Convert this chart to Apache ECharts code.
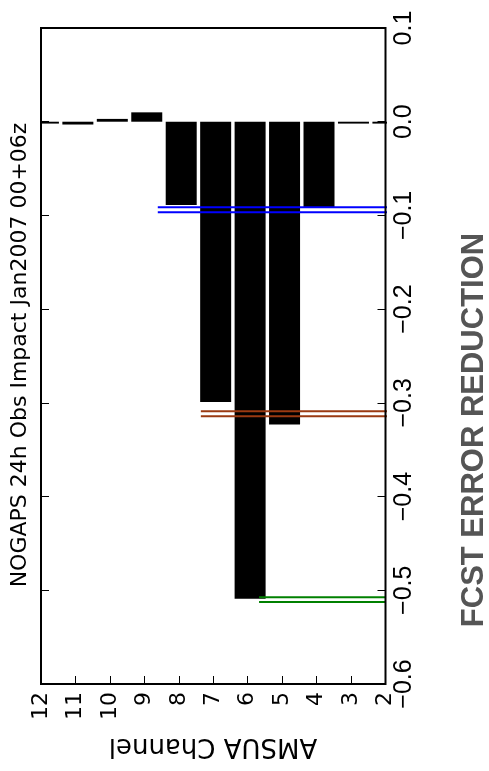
<!DOCTYPE html>
<html><head><meta charset="utf-8">
<script src="https://cdn.jsdelivr.net/npm/echarts@6/dist/echarts.min.js"></script>
<style>html,body{margin:0;padding:0;background:#fff}#c{width:489px;height:771px}</style>
</head><body><div id="c"></div>
<script>
// ---- data ----
const channels = [12, 11, 10, 9, 8, 7, 6, 5, 4, 3, 2];
const impact   = [-0.002, -0.003, 0.003, 0.010, -0.089, -0.299, -0.509, -0.323, -0.092, -0.002, -0.002];
const channelTicks = [2, 3, 4, 5, 6, 7, 8, 9, 10, 11, 12];
const valueTicks = [-0.6, -0.5, -0.4, -0.3, -0.2, -0.1, 0.0, 0.1];
const blueLevels  = [-0.0914, -0.0967]; const blueSpan  = [8.61, 1.94];
const brownLevels = [-0.3090, -0.3144]; const brownSpan = [7.36, 1.79];
const greenLevels = [-0.5073, -0.5126]; const greenSpan = [5.67, 1.99];
const titleText = 'NOGAPS 24h Obs Impact Jan2007 00+06z';
const xName = 'AMSUA Channel';
const yName = 'FCST ERROR REDUCTION';

// ---- chart ----
const BAR_SHIFT = -0.07;
const chart = echarts.init(document.getElementById('c'), null, {renderer: 'canvas'});
function refLines(levels, span, color) {
  return levels.map(v => ({
    type: 'line', xAxisIndex: 0, yAxisIndex: 0, clip: false, silent: true,
    symbol: 'none', animation: false,
    lineStyle: {color: color, width: 2},
    data: [[span[0], v], [span[1], v]], z: 5
  }));
}
const fmtVal = v => {
  const r = Math.round(v * 10) / 10;
  if (Math.abs(r) < 1e-9) return '0.0';
  return r.toFixed(1).replace('-', '\u2212');
};
const tickSet = new Set(valueTicks.map(v => Math.round(v * 10)));
const option = {
  animation: false,
  backgroundColor: '#fff',
  grid: {left: 41, top: 28, width: 344.5, height: 656, show: true,
         borderColor: '#000', borderWidth: 2, backgroundColor: 'transparent', z: 10},
  xAxis: [{
    type: 'value', min: 2, max: 12, interval: 1, inverse: true, position: 'bottom',
    axisLine: {show: false, onZero: false}, splitLine: {show: false},
    axisTick: {show: true, inside: true, length: 8, lineStyle: {color: '#000', width: 1}},
    axisLabel: {rotate: 90, margin: 8, color: '#000', fontFamily: 'DejaVu Sans', fontSize: 22,
      formatter: v => channelTicks.indexOf(v) >= 0 ? String(v) : ''}
  }],
  yAxis: [{
    type: 'value', min: -0.6, max: 0.1, interval: 0.1, position: 'right', z: 60,
    axisLine: {show: false, onZero: false}, splitLine: {show: false},
    axisTick: {show: true, inside: true, length: 8, lineStyle: {color: '#000', width: 1}},
    axisLabel: {rotate: 90, margin: 6, color: '#000', fontFamily: 'Liberation Sans', fontSize: 25,
      formatter: v => tickSet.has(Math.round(v * 10)) ? fmtVal(v) : ''}
  }, {
    type: 'value', min: -0.6, max: 0.1, interval: 0.1, position: 'left', z: 60,
    axisLine: {show: false, onZero: false}, splitLine: {show: false},
    axisTick: {show: true, inside: true, length: 8, lineStyle: {color: '#000', width: 1}},
    axisLabel: {show: false}
  }],
  series: [{
    type: 'bar', xAxisIndex: 0, yAxisIndex: 0, clip: true, barWidth: 31,
    itemStyle: {color: '#000', borderWidth: 0},
    data: channels.map((c, i) => [c + BAR_SHIFT, impact[i]]), z: 2
  }].concat(refLines(blueLevels, blueSpan, '#0000ff'))
    .concat(refLines(brownLevels, brownSpan, '#9a3a12'))
    .concat(refLines(greenLevels, greenSpan, '#008000')),
  graphic: [
    // white masks hiding bar overflow outside the plot frame (value-axis bars are not clipped at band edges)
    {type: 'rect', shape: {x: 26, y: 116, width: 14, height: 10}, style: {fill: '#fff'}, z: 50},
    {type: 'rect', shape: {x: 387, y: 116, width: 18, height: 10}, style: {fill: '#fff'}, z: 50},
    {type: 'text', x: 20.5, y: 355, rotation: Math.PI / 2, z: 60,
     style: {text: titleText, fill: '#000', font: '22px "DejaVu Sans"', align: 'center', verticalAlign: 'middle'}},
    {type: 'text', x: 213, y: 746, rotation: Math.PI, z: 60,
     style: {text: xName, fill: '#000', font: '26px "DejaVu Sans"', align: 'center', verticalAlign: 'middle'}},
    {type: 'text', x: 474, y: 430, rotation: Math.PI / 2, z: 60,
     style: {text: yName, fill: '#555', font: 'bold 31px "Liberation Sans"', align: 'center', verticalAlign: 'middle'}}
  ]
};
chart.setOption(option);
</script>
</body></html>
